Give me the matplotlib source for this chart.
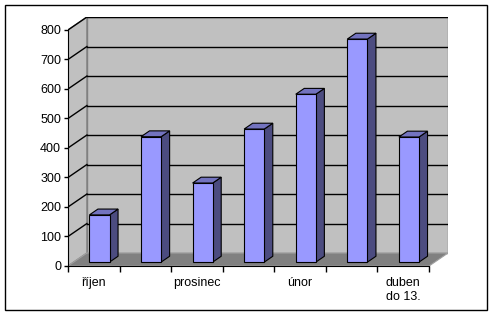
import matplotlib
matplotlib.use('Agg')
import matplotlib.pyplot as plt
from matplotlib.patches import Polygon, Rectangle

plt.rcParams['font.family'] = ['Liberation Sans', 'DejaVu Sans']

# data (Excel skipped every other category label)
kategorie = ['říjen', '', 'prosinec', '', 'únor', '', 'duben\ndo 13.']
hodnoty = [160, 425, 268, 451, 569, 756, 424]
osa_y = [0, 100, 200, 300, 400, 500, 600, 700, 800]

# fake 3D look: depth offset in data units
hloubka_x = 0.367
hloubka_y = 44
sirka = 0.39
d0, d1 = 0.3, 0.75

fig = plt.figure(figsize=(4.93, 3.16), dpi=100)
fig.patch.set_facecolor('white')
fig.patches.append(Rectangle((5 / 493, 6 / 316), 482 / 493, 305 / 316, transform=fig.transFigure,
                             fill=False, edgecolor='black', linewidth=1))

ax = fig.add_axes([68 / 493, 50 / 316, 380 / 493, 249 / 316])
n = len(hodnoty)
ymax = osa_y[-1]
ax.set_xlim(0, n + hloubka_x)
ax.set_ylim(0, ymax + hloubka_y)
ax.patch.set_visible(False)

# walls and floor
ax.add_patch(Rectangle((hloubka_x, hloubka_y), n, ymax, facecolor='#C0C0C0', edgecolor='#808080', lw=1, zorder=1))
ax.add_patch(Polygon([(0, 0), (hloubka_x, hloubka_y), (hloubka_x, ymax + hloubka_y), (0, ymax)],
                     closed=True, facecolor='#C0C0C0', edgecolor='#808080', lw=1, zorder=1))
ax.add_patch(Polygon([(0, 0), (n, 0), (n + hloubka_x, hloubka_y), (hloubka_x, hloubka_y)],
                     closed=True, facecolor='#808080', edgecolor='#A0A0A0', lw=0.8, zorder=1))

for v in osa_y[1:]:
    ax.plot([hloubka_x, n + hloubka_x], [v + hloubka_y, v + hloubka_y], color='black', lw=1, zorder=2)
    ax.plot([0, hloubka_x], [v, v + hloubka_y], color='black', lw=1, zorder=2)

# bars
for i, v in enumerate(hodnoty):
    x0 = i + (1 - sirka) / 2
    ax0, ay0 = x0 + d0 * hloubka_x, d0 * hloubka_y
    bx, by = d1 * hloubka_x - d0 * hloubka_x, d1 * hloubka_y - d0 * hloubka_y
    predek = [(ax0, ay0), (ax0 + sirka, ay0), (ax0 + sirka, ay0 + v), (ax0, ay0 + v)]
    bok = [(ax0 + sirka, ay0), (ax0 + sirka + bx, ay0 + by), (ax0 + sirka + bx, ay0 + by + v), (ax0 + sirka, ay0 + v)]
    vrch = [(ax0, ay0 + v), (ax0 + sirka, ay0 + v), (ax0 + sirka + bx, ay0 + by + v), (ax0 + bx, ay0 + by + v)]
    for pts, c in ((bok, '#4C4C80'), (vrch, '#7373BF'), (predek, '#9999FF')):
        ax.add_patch(Polygon(pts, closed=True, facecolor=c, edgecolor='black', lw=0.8, zorder=3))

# axes
for s in ('top', 'right'):
    ax.spines[s].set_visible(False)
ax.spines['left'].set_bounds(0, ymax)
ax.spines['bottom'].set_bounds(0, n)
ax.set_yticks(osa_y)
ax.tick_params(axis='y', direction='out', length=3, width=1, labelsize=9, pad=2)
ax.set_xticks(range(n + 1))
ax.set_xticklabels([])
ax.tick_params(axis='x', which='major', direction='out', length=4, width=1)
ax.set_xticks([i + 0.5 for i in range(n)], minor=True)
ax.set_xticklabels(kategorie, minor=True, fontsize=9, va='top', linespacing=1.2)
ax.tick_params(axis='x', which='minor', length=0, pad=8)

fig.savefig('out.png', dpi=100, facecolor='white')
